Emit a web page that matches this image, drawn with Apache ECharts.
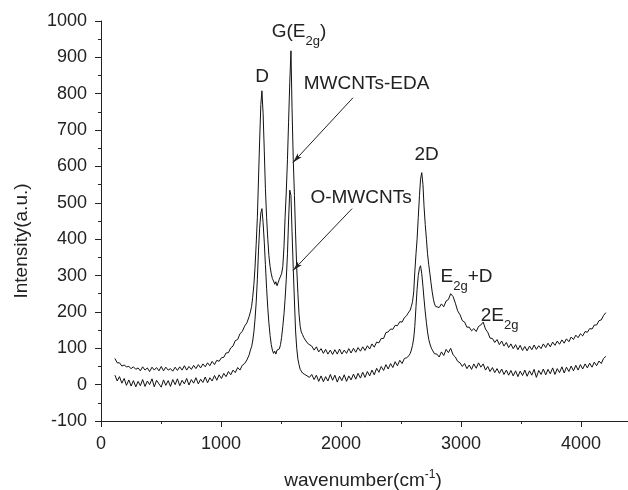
<!DOCTYPE html>
<html><head><meta charset="utf-8">
<script src="https://cdn.jsdelivr.net/npm/echarts@6/dist/echarts.min.js"></script>
<style>html,body{margin:0;padding:0;background:#fff}#c{width:628px;height:490px}</style>
</head><body><div id="c"></div>
<script>
// Raman shift axis samples (cm-1)
const wavenumber = [
116,135,154,174,193,212,232,251,270,290,309,328,347,367,386,405,425,444,463,483,
502,521,540,560,579,598,618,637,656,676,695,714,733,753,772,791,811,830,849,869,
888,907,926,946,965,984,1004,1023,1042,1062,1081,1100,1119,1139,1158,1177,1197,1216,1235,
1245,1255,1264,1274,1283,1293,1303,1312,1322,1332,1341,1351,1361,1370,1380,1390,1399,1409,1419,1428,
1438,1448,1457,1467,1476,1486,1496,1505,1515,1525,1534,1544,1554,1563,1573,1583,1592,1602,1612,1621,
1631,1641,1650,1660,1669,1679,1689,1698,1708,1718,1727,1737,
1756,1776,1795,1814,1834,1853,1872,1891,1911,1930,1949,1969,1988,2007,2027,2046,2065,2084,2104,2123,
2142,2162,2181,2200,2220,2239,2258,2277,2297,2316,2335,2355,2374,2393,2413,2432,2451,2470,2490,2509,2528,2548,
2557,2567,2577,2586,2596,2606,2615,2625,2634,2644,2654,2663,2673,2683,2692,2702,2712,2721,2731,2741,2750,2760,2770,2779,2789,2799,
2818,2837,2856,2876,2895,2914,2934,2953,2972,2992,3011,3030,3049,3069,3088,3107,3127,3146,3165,3185,
3204,3223,3242,3262,3281,3300,3320,3339,3358,3378,3397,3416,3435,3455,3474,3493,3513,3532,3551,3571,
3590,3609,3628,3648,3667,3686,3706,3725,3744,3764,3783,3802,3821,3841,3860,3879,3899,3918,3937,3957,
3976,3995,4014,4034,4053,4072,4092,4111,4130,4150,4169,4188,4207
];
// MWCNTs-EDA spectrum (upper)
const mwcntsEDA = [
72,60,60,51,54,49,50,44,49,42,46,38,49,40,46,36,48,40,47,38,
50,38,48,40,44,37,48,39,49,40,52,40,50,42,53,44,55,46,57,49,
60,52,64,55,67,64,74,75,87,88,101,106,121,124,140,146,161,170,188,
200,215,240,275,320,385,460,560,670,770,808,745,640,540,460,400,355,325,305,292,
285,276,283,272,280,290,295,305,325,380,460,530,620,720,830,918,760,620,520,420,
320,250,195,160,145,138,130,126,120,116,112,108,
106,95,104,90,99,86,97,84,95,83,96,84,98,84,95,86,99,87,100,89,
102,92,104,94,107,98,112,103,117,115,127,127,143,145,153,152,163,162,173,172,184,190,
196,200,205,215,228,255,310,360,400,460,520,565,583,550,490,440,400,360,330,305,280,255,235,222,215,218,
212,222,214,230,234,250,242,224,203,192,176,172,158,158,148,154,146,160,164,172,
153,144,128,127,116,124,110,120,106,116,102,112,99,110,96,108,94,105,93,106,
96,109,97,107,99,112,102,114,104,117,108,120,111,123,114,126,118,131,124,136,
129,140,134,146,144,154,153,164,164,176,178,190,198
];
// O-MWCNTs spectrum (lower)
const oMWCNTs = [
26,10,22,4,17,-2,13,-4,11,-6,9,-3,14,-5,10,0,16,-6,12,2,
-7,13,-2,11,-5,14,0,16,-3,12,2,17,-1,14,4,19,2,15,6,21,
5,19,10,25,12,27,17,31,22,36,27,40,33,47,40,53,58,68,82,
95,104,120,145,178,225,290,365,430,472,484,445,390,330,265,210,170,135,110,95,
86,92,84,95,90,98,110,130,160,195,235,290,360,450,535,520,420,320,230,150,
100,70,55,42,40,32,36,28,31,24,28,20,
28,14,26,9,24,8,22,10,28,12,26,7,23,11,27,9,24,13,29,15,
31,18,34,20,36,24,40,27,45,34,50,39,55,43,58,47,63,52,67,58,72,74,
76,80,86,95,108,128,160,215,262,300,320,327,305,270,235,200,170,145,125,112,103,96,92,85,80,84,
76,90,80,97,88,100,82,76,64,60,50,58,44,54,42,57,45,60,48,57,
40,50,36,47,33,44,31,43,28,40,26,39,24,38,22,37,25,40,23,38,
26,42,20,39,28,43,27,42,30,46,28,44,33,49,32,48,36,51,38,53,
40,55,43,57,46,59,48,62,52,65,58,72,78
];
// Axis ranges / ticks
const xRange = [0, 4500], xStep = 1000;
const yRange = [-100, 1000], yStep = 100;

const FONT = '"Liberation Sans", Arial, Helvetica, sans-serif';
const INK = '#222';

const pairs = arr => arr.map((v, i) => [wavenumber[i], v]);

const rich = {
  m: {fontSize: 19, fontFamily: FONT, color: INK, lineHeight: 32},
  s: {fontSize: 13, fontFamily: FONT, color: INK, lineHeight: 14, verticalAlign: 'bottom'}
};

function ann(text, coord) {
  return {name: text, coord: coord, label: {formatter: text}};
}

const chart = echarts.init(document.getElementById('c'), null, {renderer: 'canvas'});
chart.setOption({
  animation: false,
  backgroundColor: '#fff',
  grid: {left: 101, top: 21, bottom: 69, right: -13, containLabel: false, outerBoundsMode: 'none'},
  xAxis: {
    type: 'value', min: xRange[0], max: xRange[1], interval: xStep,
    name: '{m|wavenumber(cm}{p|-1}{m|)}',
    nameLocation: 'middle', nameGap: 48,
    nameTextStyle: {
      padding: [0, 16, 0, 0],
      rich: {
        m: {fontSize: 19, fontFamily: FONT, color: INK, lineHeight: 24},
        p: {fontSize: 12, fontFamily: FONT, color: INK, lineHeight: 12, verticalAlign: 'top'}
      }
    },
    axisLine: {onZero: false, lineStyle: {color: INK, width: 1}},
    axisTick: {inside: false, length: 6, lineStyle: {color: INK}},
    minorTick: {show: true, splitNumber: 2, length: 3, lineStyle: {color: INK}},
    splitLine: {show: false},
    minorSplitLine: {show: false},
    axisLabel: {fontSize: 18, fontFamily: FONT, color: INK, margin: 14, showMaxLabel: false,
      formatter: v => String(v)}
  },
  yAxis: {
    type: 'value', min: yRange[0], max: yRange[1], interval: yStep,
    name: 'Intensity(a.u.)',
    nameLocation: 'middle', nameGap: 70,
    nameTextStyle: {fontSize: 19, fontFamily: FONT, color: INK, padding: [0, 40, 0, 0]},
    axisLine: {show: true, lineStyle: {color: INK, width: 1}},
    axisTick: {show: true, inside: false, length: 6, lineStyle: {color: INK}},
    minorTick: {show: true, splitNumber: 2, length: 3, lineStyle: {color: INK}},
    splitLine: {show: false},
    axisLabel: {fontSize: 18, fontFamily: FONT, color: INK, margin: 14, formatter: v => String(v)}
  },
  series: [
    {
      name: 'MWCNTs-EDA', type: 'line', data: pairs(mwcntsEDA),
      showSymbol: false, symbol: 'none',
      lineStyle: {color: '#111', width: 1}, silent: true,
      markLine: {
        silent: true, symbol: ['none', 'arrow'], symbolSize: [4, 10],
        label: {show: false},
        lineStyle: {color: INK, width: 1, type: 'solid'},
        data: [
          [{coord: [2100, 789]}, {coord: [1600, 611]}],
          [{coord: [2092, 484]}, {coord: [1600, 314]}]
        ]
      },
      markPoint: {
        silent: true, symbol: 'circle', symbolSize: 1,
        itemStyle: {color: 'rgba(0,0,0,0)'},
        label: {show: true, position: 'inside', rich: rich},
        data: [
          ann('{m|D}', [1342, 847]),
          ann('{m|G(E}{s|2g}{m|)}', [1650, 971]),
          ann('{m|MWCNTs-EDA}', [2213, 828]),
          ann('{m|O-MWCNTs}', [2167, 514]),
          ann('{m|2D}', [2713, 633]),
          ann('{m|E}{s|2g}{m|+D}', [3046, 296]),
          ann('{m|2E}{s|2g}', [3321, 190])
        ]
      }
    },
    {
      name: 'O-MWCNTs', type: 'line', data: pairs(oMWCNTs),
      showSymbol: false, symbol: 'none',
      lineStyle: {color: '#111', width: 1}, silent: true
    }
  ]
});
</script></body></html>
